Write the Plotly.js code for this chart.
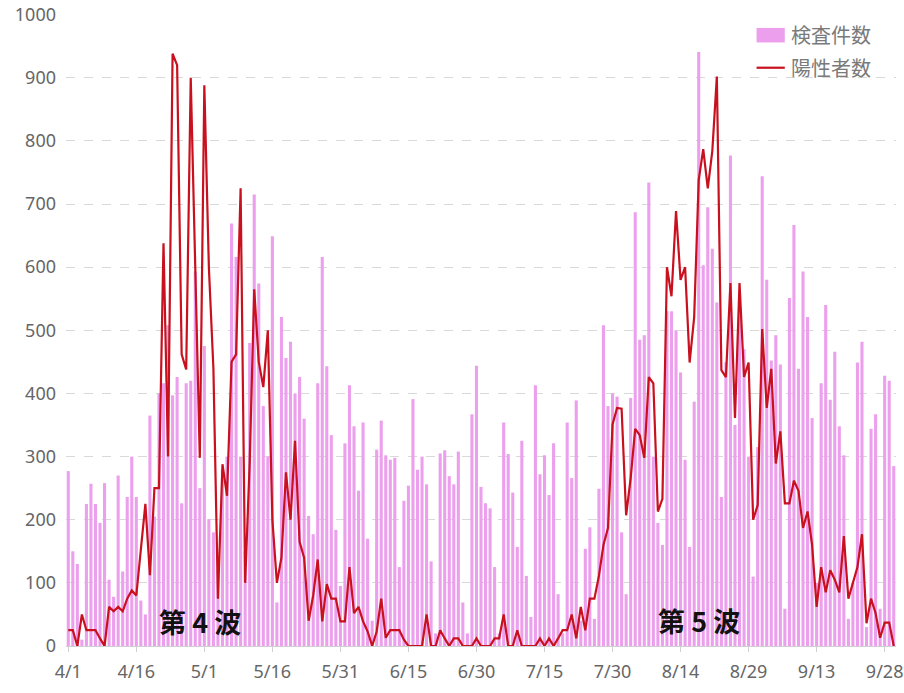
<!DOCTYPE html>
<html>
<head>
<meta charset="utf-8">
<script src="https://cdn.plot.ly/plotly-3.0.1.min.js"></script>
<style>html,body{margin:0;padding:0;background:#fff;}#chart{width:904px;height:693px;}</style>
</head>
<body>
<div id="chart"></div>
<script>
// Categories: 4/1 .. 9/30
const monthDays = {4:30,5:31,6:30,7:31,8:31,9:30};
const dates = [];
for (let m = 4; m <= 9; m++) for (let d = 1; d <= monthDays[m]; d++) dates.push(m + '/' + d);

const tickLabels = ['4/1','4/16','5/1','5/16','5/31','6/15','6/30','7/15','7/30','8/14','8/29','9/13','9/28'];

const seriesNames = ['検査件数', '陽性者数'];
const waveLabels = ['第 4 波', '第 5 波'];
const waveCenters = ['4/30', '8/18'];

// 検査件数 (tests)
const tests = [
277,150,130,10,225,257,225,195,258,105,78,270,118,236,300,236,72,50,365,205,
400,416,508,397,426,226,416,420,593,250,475,201,180,120,280,300,669,616,300,150,
480,715,574,380,300,649,69,521,456,482,400,426,360,206,177,416,616,443,334,184,
95,321,413,348,246,354,170,40,311,357,302,295,298,125,230,254,391,279,300,256,
134,20,305,310,269,256,308,69,20,367,444,252,226,218,125,20,354,304,243,157,
325,111,46,413,272,302,239,321,82,20,354,266,389,40,154,188,43,249,508,380,
400,395,180,82,393,687,485,492,734,300,195,160,530,530,500,433,295,157,387,941,
603,695,629,544,236,450,777,350,555,470,300,110,315,744,580,452,492,446,59,551,
667,439,593,521,361,100,416,540,390,466,348,302,43,100,449,482,30,344,367,59,
428,420,285
];

// 陽性者数 (positives)
const positives = [
25,25,0,50,25,25,25,12,0,62,55,62,55,75,88,80,150,225,112,250,
250,638,300,938,920,462,438,900,600,298,888,600,440,75,288,238,450,462,725,100,
290,565,450,410,500,200,100,140,275,200,325,165,140,40,80,137,39,98,75,75,
39,39,125,52,62,39,23,0,23,75,13,25,25,25,10,0,0,0,0,50,
0,0,25,12,0,12,12,0,0,0,12,0,0,0,12,12,50,0,0,25,
0,0,0,0,12,0,12,0,12,25,25,50,12,62,25,75,75,111,160,187,
351,377,376,207,266,344,334,298,426,416,213,233,600,554,689,580,600,449,521,738,
787,725,784,902,437,426,575,361,575,426,449,200,223,502,377,439,289,340,226,226,
262,246,187,213,160,62,125,85,120,105,85,174,75,102,125,177,36,75,52,13,
37,37,0
];

const barColor = '#EC9FEC';
const lineColor = '#C8101E';
const tickFont = {family: 'Noto Sans, sans-serif', size: 18, color: '#666666'};
const legendFont = {family: 'Noto Sans CJK JP, sans-serif', size: 20, color: '#7a7a7a'};
const waveFont = {family: 'Noto Sans CJK JP, sans-serif', size: 27, color: '#111111'};

const traces = [
  {type: 'bar', name: seriesNames[0], x: dates, y: tests,
   marker: {color: barColor, line: {width: 0}}, showlegend: false},
  {type: 'scatter', mode: 'lines', name: seriesNames[1], x: dates, y: positives,
   line: {color: lineColor, width: 2.2}, showlegend: false}
];

// Legend drawn as shapes + text in paper coordinates (plot area 66..896 x 14..646)
const shapes = [
  {type: 'rect', xref: 'paper', yref: 'paper', x0: 0.832, x1: 0.866, y0: 0.955, y1: 0.978,
   fillcolor: barColor, line: {width: 0}},
  {type: 'line', xref: 'paper', yref: 'paper', x0: 0.832, x1: 0.866, y0: 0.915, y1: 0.915,
   line: {color: lineColor, width: 2.2}}
];

const annotations = [
  {text: seriesNames[0], xref: 'paper', yref: 'paper', x: 0.871, y: 0.967, xanchor: 'left', yanchor: 'middle',
   showarrow: false, font: legendFont},
  {text: seriesNames[1], xref: 'paper', yref: 'paper', x: 0.871, y: 0.915, xanchor: 'left', yanchor: 'middle',
   showarrow: false, font: legendFont},
  {text: '<b>' + waveLabels[0] + '</b>', xref: 'x', yref: 'y', x: waveCenters[0], y: 39,
   xanchor: 'center', yanchor: 'middle', showarrow: false, font: waveFont},
  {text: '<b>' + waveLabels[1] + '</b>', xref: 'x', yref: 'y', x: waveCenters[1], y: 41,
   xanchor: 'center', yanchor: 'middle', showarrow: false, font: waveFont}
];

const layout = {
  width: 904, height: 693,
  margin: {l: 66, r: 8, t: 14, b: 47},
  paper_bgcolor: '#ffffff', plot_bgcolor: '#ffffff',
  bargap: 0.32,
  showlegend: false,
  xaxis: {type: 'category', range: [-0.5, dates.length - 0.5],
          tickmode: 'array', tickvals: tickLabels, ticktext: tickLabels,
          ticks: 'outside', ticklen: 5, tickcolor: '#d0d0d0',
          showline: true, linecolor: '#d0d0d0', linewidth: 1,
          showgrid: false, tickfont: tickFont, ticklabelstandoff: 4, automargin: false},
  yaxis: {range: [0, 1001], tickmode: 'linear', tick0: 0, dtick: 100,
          showgrid: true, gridcolor: '#d9d9d9', griddash: 'dash', gridwidth: 1,
          zeroline: false, showline: false, ticks: '',
          tickfont: tickFont, ticklabelstandoff: 9, automargin: false},
  shapes: shapes,
  annotations: annotations
};

Plotly.newPlot('chart', traces, layout, {displayModeBar: false, staticPlot: true});
</script>
</body>
</html>
